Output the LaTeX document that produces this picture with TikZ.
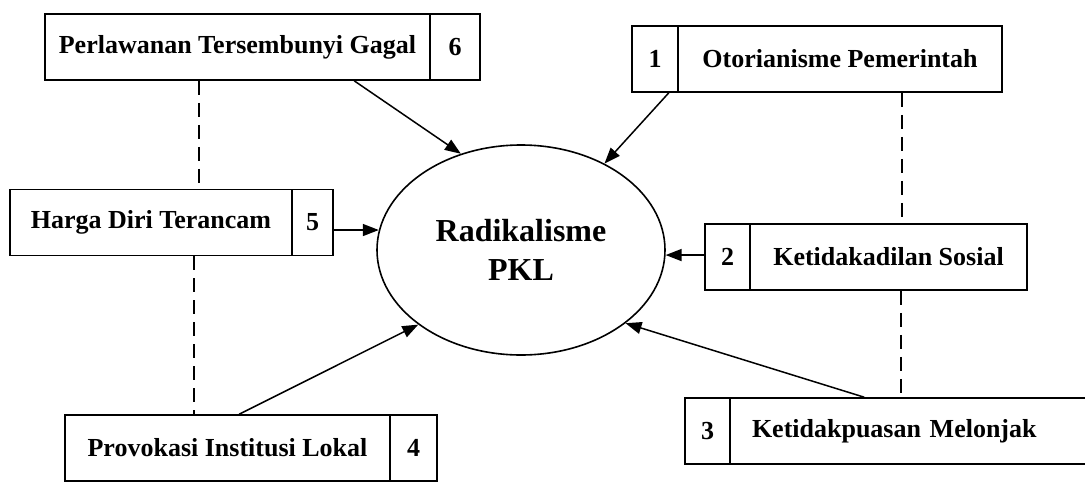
\documentclass[tikz,border=0pt]{standalone}
\usepackage{fontspec}
\setmainfont{Liberation Serif}
\usetikzlibrary{arrows.meta,shapes.geometric,calc}
\begin{document}
\begin{tikzpicture}[x=1pt,y=-1pt,
  cell/.style={draw,line width=1.6pt,inner sep=0pt,minimum height=66pt,font=\fontsize{26}{31}\selectfont\bfseries},
  numcell/.style={cell},
  arr/.style={line width=1.5pt,-{Triangle[length=16pt,width=12pt]}},
  dsh/.style={line width=1.5pt,dash pattern=on 14pt off 8pt}]
\useasboundingbox (0,0) rectangle (1085,488);
\clip (0,0) rectangle (1085,488);
% box 6
\node[cell,minimum width=385pt] (lab6) at (237.5,47) {Perlawanan Tersembunyi Gagal};
\node[numcell,minimum width=50pt] (n6) at (455,47) {6};
% box 5
\node[cell,minimum width=282pt] (lab5) at (151,222.5) {Harga Diri Terancam};
\node[numcell,minimum width=41pt] (n5) at (312.5,222.5) {5};
% box 4
\node[cell,minimum width=325pt] (lab4) at (227.5,448) {Provokasi Institusi Lokal};
\node[numcell,minimum width=47pt] (n4) at (413.5,448) {4};
% box 1
\node[numcell,minimum width=46pt] (n1) at (655,59) {1};
\node[cell,minimum width=324pt] (lab1) at (840,59) {Otorianisme Pemerintah};
% box 2
\node[numcell,minimum width=45pt] (n2) at (727.5,257) {2};
\node[cell,minimum width=277pt] (lab2) at (888.5,257) {Ketidakadilan Sosial};
% box 3
\node[numcell,minimum width=45pt] (n3) at (707.5,431) {3};
\node[cell,text width=350pt,align=left,inner xsep=22pt,minimum width=394pt] (lab3) at (927,431) {Ketidakpuasan\ Melonjak};
% centre
\node[draw,ellipse,line width=1.6pt,minimum width=288pt,minimum height=210pt,inner sep=0pt,align=center,
  font=\fontsize{32}{39}\selectfont\bfseries] (c) at (521,250) {Radikalisme\\PKL};
% arrows
\draw[arr] ([xshift=310pt]lab6.south west) -- (c.122);
\draw[arr] ([xshift=-10pt]n1.south east) -- (c.46);
\draw[arr] (c.172 -| n5.east) -- (c.172);
\draw[arr] (c.-2 -| n2.west) -- (c.-2);
\draw[arr] ([xshift=175pt]lab4.north west) -- (c.216);
\draw[arr] ([xshift=135pt]lab3.north west) -- (c.-35);
% dashed links
\draw[dsh] ($(n6.east)+(0,9)$) -- ($(n6.east)+(0,9)$ -| n1.west);
\draw[dsh] ([xshift=155pt]lab6.south west) -- ([xshift=155pt]lab6.south west |- lab5.north);
\draw[dsh] ([xshift=185pt]lab5.south west) -- ([xshift=185pt]lab5.south west |- lab4.north);
\draw[dsh] ([xshift=225pt]lab1.south west) -- ([xshift=225pt]lab1.south west |- lab2.north);
\draw[dsh] ([xshift=152pt]lab2.south west) -- ([xshift=152pt]lab2.south west |- lab3.north);
\draw[dsh] ($(n4.east)+(0,-5)$) -- ($(n4.east)+(0,-5)$ -| n3.west);
\end{tikzpicture}
\end{document}
